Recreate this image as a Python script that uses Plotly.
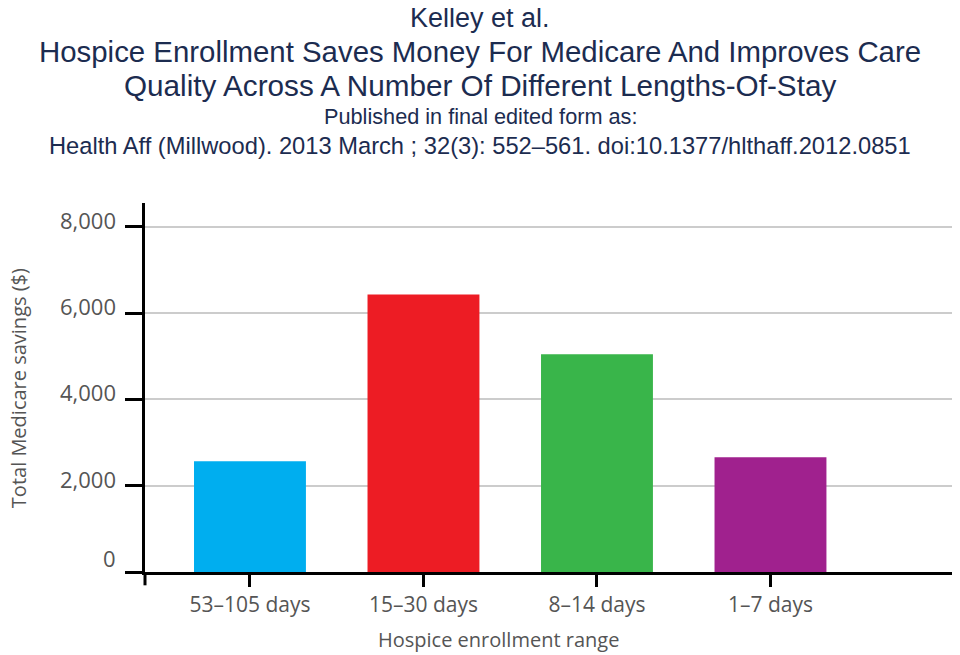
import plotly.graph_objects as go

categories = ["53–105 days", "15–30 days", "8–14 days", "1–7 days"]
savings = [2565, 6430, 5045, 2660]
bar_colors = ["#00AEEF", "#ED1C24", "#39B54A", "#A0218E"]
y_ticks = [0, 2000, 4000, 6000, 8000]
y_tick_labels = ["0", "2,000", "4,000", "6,000", "8,000"]

header_lines = [
    ("Kelley et al.", 27, 18.5),
    ("Hospice Enrollment Saves Money For Medicare And Improves Care", 29.4, 52),
    ("Quality Across A Number Of Different Lengths-Of-Stay", 29.7, 86),
    ("Published in final edited form as:", 21.7, 117),
    ("Health Aff (Millwood). 2013 March ; 32(3): 552–561. doi:10.1377/hlthaff.2012.0851", 23.7, 146),
]

# page has an 8px body margin; figure is drawn offset by it
OFF = 8
W, H = 960 - OFF, 655 - OFF
PL, PR, PT, PB = 145, 957, 203, 571.7   # plot area in reference pixels
left = PL - OFF
right = W - (PR - OFF)
top = PT - OFF
bottom = H - (PB - OFF)
plot_w = PR - PL
plot_h = PB - PT


def px(p):
    return (p - PL) / plot_w


def py(p):
    return (PB - p) / plot_h


fig = go.Figure(
    go.Bar(
        x=categories,
        y=savings,
        marker=dict(color=bar_colors, line=dict(width=0)),
        width=0.645,
        hoverinfo="x+y",
    )
)

axis_font = dict(family="Open Sans, Lato, sans-serif", size=21, color="#555555")

fig.update_layout(
    width=W,
    height=H,
    margin=dict(l=left, r=right, t=top, b=bottom, pad=0),
    paper_bgcolor="white",
    plot_bgcolor="white",
    showlegend=False,
    xaxis=dict(
        type="category",
        range=[-0.605, 4.075],
        showline=True,
        linecolor="black",
        linewidth=3,
        ticks="outside",
        ticklen=12,
        tickwidth=3,
        tickcolor="black",
        tickfont=axis_font,
        showgrid=False,
        zeroline=False,
    ),
    yaxis=dict(
        range=[0, 8550],
        tickvals=y_ticks,
        showticklabels=False,
        showline=True,
        linecolor="black",
        linewidth=3,
        ticks="outside",
        ticklen=17,
        tickwidth=3,
        tickcolor="black",
        showgrid=True,
        gridcolor="#cccccc",
        gridwidth=1.5,
        zeroline=False,
    ),
)

annotations = []
for text, size, ypix in header_lines:
    annotations.append(dict(
        text=text, xref="paper", yref="paper", x=px(480), y=py(ypix),
        xanchor="center", yanchor="middle", showarrow=False,
        font=dict(family="Liberation Sans, Arial, sans-serif", size=size, color="#1c2c50"),
    ))

# y tick labels sit slightly above their ticks in the reference
for v, lab in zip(y_ticks, y_tick_labels):
    annotations.append(dict(
        text=lab, xref="paper", yref="y", x=px(118), y=v,
        xanchor="right", yanchor="middle", showarrow=False,
        yshift=14 if v == 0 else 7,
        font=dict(family="Open Sans, Lato, sans-serif", size=22, color="#555555"),
    ))

annotations.append(dict(
    text="Total Medicare savings ($)", xref="paper", yref="paper",
    x=px(18), y=py(388), xanchor="center", yanchor="middle", textangle=-90,
    showarrow=False, font=dict(family="Open Sans, Lato, sans-serif", size=20, color="#555555"),
))
annotations.append(dict(
    text="Hospice enrollment range", xref="paper", yref="paper",
    x=px(498), y=py(639), xanchor="center", yanchor="middle",
    showarrow=False, font=dict(family="Open Sans, Lato, sans-serif", size=20, color="#555555"),
))
fig.update_layout(annotations=annotations)

# short extension of the y-axis line below the x-axis
fig.add_shape(type="line", xref="paper", yref="paper", x0=0, x1=0,
              y0=0, y1=py(585), line=dict(color="black", width=3))

fig.write_html("out.html")
